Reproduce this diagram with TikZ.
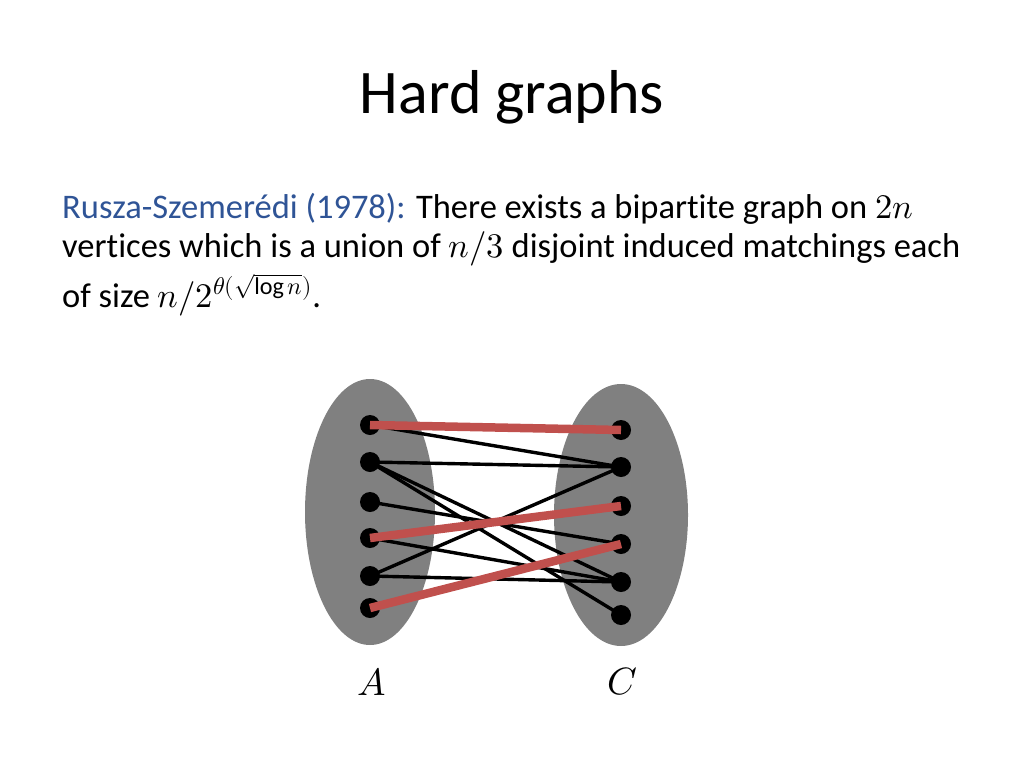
\documentclass[tikz,border=0pt]{standalone}
\usepackage{fontspec}
\usepackage{unicode-math}
\setmainfont[Ligatures=NoCommon]{Carlito}
\setmathfont{Latin Modern Math}
\definecolor{titleblue}{RGB}{47,84,150}
\definecolor{redge}{RGB}{192,80,77}
\begin{document}
\begin{tikzpicture}[x=1pt,y=-1pt,
  vtx/.style={circle,fill=black,inner sep=0pt,minimum size=20pt},
  blk/.style={black,line width=3.4pt},
  red/.style={redge,line width=8.5pt},
  txt/.style={anchor=base west,inner sep=0pt,font=\fontsize{34.5}{40}\selectfont}]
\useasboundingbox (0,0) rectangle (1024,768);
\node[font=\fontsize{62}{70}\selectfont] (title) at (512,97) {Hard graphs};
\node[txt] (l1) at (62,218) {\textcolor{titleblue}{Rusza-Szemerédi (1978):} There exists a bipartite graph on $2n$};
\node[txt] (l2) at (62,257) {vertices which is a union of $n/3$ disjoint induced matchings each};
\node[txt] (l3) at (62,307) {of size $n/2^{\theta(\sqrt{\log n})}$.};
\fill[fill=black!50] (370,512) ellipse [x radius=65, y radius=133];
\fill[fill=black!50] (621,515) ellipse [x radius=67, y radius=131];
\foreach \i/\y in {1/425,2/462,3/502,4/538,5/576,6/608} \node[vtx] (a\i) at (370,\y) {};
\foreach \i/\y in {1/430,2/467,3/506,4/544,5/582,6/615} \node[vtx] (c\i) at (621,\y) {};
\foreach \u/\v in {1/2,2/2,2/5,2/6,3/4,4/5,5/2,5/5} \draw[blk] (a\u.center) -- (c\v.center);
\foreach \u/\v in {1/1,4/3,6/4} \draw[red] (a\u.center) -- (c\v.center);
\node[font=\fontsize{38}{42}\selectfont] (A) at (372,682) {$A$};
\node[font=\fontsize{38}{42}\selectfont] (C) at (622,682) {$C$};
\end{tikzpicture}
\end{document}
